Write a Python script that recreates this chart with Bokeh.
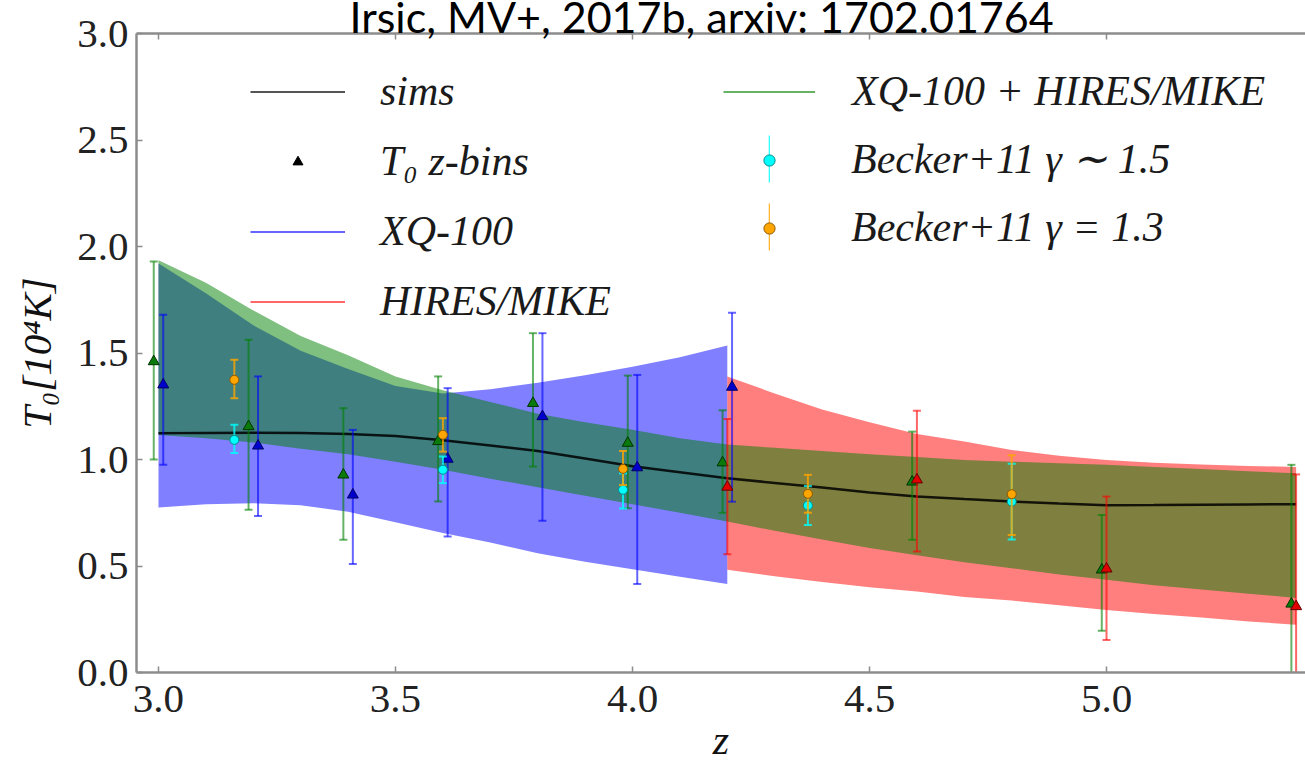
from bokeh.plotting import figure
from bokeh.models import (Range1d, LinearAxis, FixedTicker, Legend, LegendItem,
                          Title, ColumnDataSource)
from bokeh.embed import file_html
from bokeh.resources import INLINE

# ---------------------------------------------------------------- ticks
x_ticks = [3.0, 3.5, 4.0, 4.5, 5.0]
x_tick_labels = ["3.0", "3.5", "4.0", "4.5", "5.0"]
y_ticks = [0.0, 0.5, 1.0, 1.5, 2.0, 2.5, 3.0]
y_tick_labels = ["0.0", "0.5", "1.0", "1.5", "2.0", "2.5", "3.0"]

# ---------------------------------------------------------------- simulation curve
sims_z = [3.0, 3.1, 3.2, 3.3, 3.4, 3.5, 3.6, 3.7, 3.8, 3.9, 4.0, 4.1, 4.2,
          4.3, 4.4, 4.5, 4.6, 4.7, 4.8, 4.9, 5.0, 5.1, 5.2, 5.3, 5.4]
sims_t0 = [1.123, 1.125, 1.126, 1.124, 1.12, 1.11, 1.09, 1.066, 1.04, 1.005,
           0.968, 0.94, 0.912, 0.89, 0.868, 0.845, 0.826, 0.814, 0.803, 0.793,
           0.785, 0.786, 0.788, 0.789, 0.79]

# ---------------------------------------------------------------- 1-sigma bands
xq_band_z = [3.0, 3.1, 3.2, 3.3, 3.4, 3.5, 3.6, 3.7, 3.8, 3.9, 4.0, 4.1, 4.2]
xq_band_hi = [1.92, 1.78, 1.63, 1.51, 1.425, 1.345, 1.31, 1.33, 1.36, 1.395,
              1.435, 1.48, 1.535]
xq_band_lo = [0.775, 0.79, 0.795, 0.785, 0.755, 0.705, 0.655, 0.61, 0.56, 0.52,
              0.485, 0.45, 0.415]

hm_band_z = [4.2, 4.3, 4.4, 4.5, 4.6, 4.7, 4.8, 4.9, 5.0, 5.1, 5.2, 5.3, 5.4]
hm_band_hi = [1.39, 1.31, 1.235, 1.175, 1.12, 1.085, 1.045, 1.018, 0.998,
              0.985, 0.977, 0.97, 0.965]
hm_band_lo = [0.482, 0.452, 0.425, 0.40, 0.38, 0.355, 0.338, 0.316, 0.294,
              0.275, 0.258, 0.24, 0.224]

comb_band_z = [3.0, 3.1, 3.2, 3.3, 3.4, 3.5, 3.6, 3.7, 3.8, 3.9, 4.0, 4.1, 4.2,
               4.3, 4.4, 4.5, 4.6, 4.7, 4.8, 4.9, 5.0, 5.1, 5.2, 5.3, 5.4]
comb_band_hi = [1.935, 1.83, 1.70, 1.58, 1.49, 1.39, 1.325, 1.27, 1.215, 1.175,
                1.14, 1.10, 1.07, 1.055, 1.04, 1.025, 1.012, 0.998, 0.99, 0.982,
                0.975, 0.965, 0.955, 0.945, 0.935]
comb_band_lo = [1.115, 1.10, 1.08, 1.05, 1.025, 0.99, 0.952, 0.91, 0.87, 0.83,
                0.79, 0.75, 0.709, 0.665, 0.625, 0.585, 0.55, 0.518, 0.49, 0.46,
                0.435, 0.41, 0.39, 0.37, 0.35]

# ---------------------------------------------------------------- T0 in z-bins
comb_z = [2.99, 3.19, 3.39, 3.59, 3.79, 3.99, 4.19, 4.59, 4.99, 5.39]
comb_t0 = [1.46, 1.155, 0.928, 1.085, 1.264, 1.077, 0.985, 0.895, 0.482, 0.322]
comb_lo = [1.00, 0.764, 0.623, 0.803, 0.967, 0.771, 0.75, 0.623, 0.196, -0.3]
comb_hi = [1.93, 1.562, 1.241, 1.39, 1.593, 1.394, 1.231, 1.131, 0.74, 0.975]

xq_z = [3.01, 3.21, 3.41, 3.61, 3.81, 4.01, 4.21]
xq_t0 = [1.351, 1.064, 0.834, 1.002, 1.202, 0.962, 1.34]
xq_lo = [0.975, 0.735, 0.509, 0.638, 0.712, 0.415, 0.802]
xq_hi = [1.679, 1.39, 1.139, 1.335, 1.593, 1.397, 1.689]

hm_z = [4.2, 4.6, 5.0, 5.4]
hm_t0 = [0.871, 0.905, 0.487, 0.31]
hm_lo = [0.555, 0.568, 0.153, -0.35]
hm_hi = [1.19, 1.229, 0.826, 0.93]

# ---------------------------------------------------------------- Becker+11
becker15_z = [3.16, 3.6, 3.98, 4.37, 4.8]
becker15_t0 = [1.092, 0.952, 0.858, 0.784, 0.802]
becker15_lo = [1.03, 0.889, 0.77, 0.693, 0.625]
becker15_hi = [1.163, 1.014, 0.935, 0.875, 0.98]

becker13_z = [3.16, 3.6, 3.98, 4.37, 4.8]
becker13_t0 = [1.374, 1.116, 0.956, 0.839, 0.837]
becker13_lo = [1.288, 1.037, 0.88, 0.75, 0.645]
becker13_hi = [1.468, 1.194, 1.04, 0.928, 1.02]

# ---------------------------------------------------------------- figure
p = figure(width=1305, height=765, title=None,
           x_range=Range1d(2.9536, 5.4198), y_range=Range1d(0.0, 3.0),
           output_backend="svg", toolbar_location=None,
           min_border_left=136, min_border_right=0,
           min_border_top=33, min_border_bottom=93)
p.outline_line_color = None
p.grid.visible = False

SERIF = "Liberation Serif"
AXIS_GRAY = "#8c8c8c"


def style_axis(ax):
    ax.axis_line_color = AXIS_GRAY
    ax.axis_line_width = 2.5
    ax.major_tick_in = 6
    ax.major_tick_out = 0
    ax.major_tick_line_color = AXIS_GRAY
    ax.major_tick_line_width = 1.5
    ax.minor_tick_line_color = None
    ax.major_label_text_font = SERIF
    ax.major_label_text_font_size = "41px"
    ax.major_label_text_color = "#222222"


xax = p.xaxis[0]
yax = p.yaxis[0]
style_axis(xax)
style_axis(yax)
xax.ticker = FixedTicker(ticks=x_ticks)
xax.major_label_overrides = dict(zip(x_ticks, x_tick_labels))
xax.major_label_standoff = 13
yax.ticker = FixedTicker(ticks=y_ticks)
yax.major_label_overrides = dict(zip(y_ticks, y_tick_labels))
yax.major_label_standoff = 8

xax.axis_label = "z"
xax.axis_label_text_font = SERIF
xax.axis_label_text_font_style = "italic"
xax.axis_label_text_font_size = "42px"
xax.axis_label_text_color = "#111111"
xax.axis_label_standoff = 2

yax.axis_label = "T₀[10⁴K]"
yax.axis_label_text_font = SERIF
yax.axis_label_text_font_style = "italic"
yax.axis_label_text_font_size = "41px"
yax.axis_label_text_color = "#111111"
yax.axis_label_standoff = 14

# top spine with inward ticks, no labels
top_axis = LinearAxis(ticker=FixedTicker(ticks=x_ticks),
                      major_label_overrides={t: "" for t in x_ticks},
                      major_label_standoff=0)
style_axis(top_axis)
top_axis.major_label_text_font_size = "0px"
p.add_layout(top_axis, "above")

# title sits in the top border, running up to the page edge
p.add_layout(Title(text="Irsic, MV+, 2017b, arxiv: 1702.01764",
                   align="left", offset=213, vertical_align="top", standoff=-20,
                   text_font="Lato", text_font_size="43px",
                   text_font_style="normal", text_color="black"), "above")

# ---------------------------------------------------------------- bands
p.varea(x=xq_band_z, y1=xq_band_lo, y2=xq_band_hi,
        fill_color="blue", fill_alpha=0.5)
p.varea(x=hm_band_z, y1=hm_band_lo, y2=hm_band_hi,
        fill_color="red", fill_alpha=0.5)
p.varea(x=comb_band_z, y1=comb_band_lo, y2=comb_band_hi,
        fill_color="green", fill_alpha=0.5)

p.line(sims_z, sims_t0, line_color="black", line_width=2.5, line_alpha=0.85)


# ---------------------------------------------------------------- points with error bars
def error_points(z, t0, lo, hi, bar_color, bar_alpha, marker, fill, edge, size):
    src = ColumnDataSource(dict(z=z, t0=t0, lo=lo, hi=hi))
    p.segment(x0="z", y0="lo", x1="z", y1="hi", source=src,
              line_color=bar_color, line_alpha=bar_alpha, line_width=2)
    for end in ("lo", "hi"):
        p.scatter(x="z", y=end, source=src, marker="dash", size=8,
                  line_color=bar_color, line_alpha=bar_alpha, line_width=2)
    return p.scatter(x="z", y="t0", source=src, marker=marker, size=size,
                     fill_color=fill, line_color=edge, line_width=1)


error_points(comb_z, comb_t0, comb_lo, comb_hi, "green", 0.6,
             "triangle", "#0a7a0a", "#003300", 11)
error_points(xq_z, xq_t0, xq_lo, xq_hi, "blue", 0.6,
             "triangle", "#0000cc", "#000066", 11)
error_points(hm_z, hm_t0, hm_lo, hm_hi, "red", 0.6,
             "triangle", "#e00000", "#660000", 11)
error_points(becker15_z, becker15_t0, becker15_lo, becker15_hi, "cyan", 0.8,
             "circle", "cyan", "#008b8b", 9)
error_points(becker13_z, becker13_t0, becker13_lo, becker13_hi, "orange", 0.8,
             "circle", "orange", "#8b5a00", 9)

# ---------------------------------------------------------------- legend keys
# key glyphs hold a single NaN so that they draw only inside the legends
NAN = [float("nan")]
key_sims = p.line(x=NAN, y=NAN, line_color="#555555", line_width=2)
key_bins = p.scatter(x=NAN, y=NAN, marker="triangle", fill_color="black",
                     line_color="black")
key_xq = p.line(x=NAN, y=NAN, line_color="blue", line_alpha=0.6, line_width=2)
key_hm = p.line(x=NAN, y=NAN, line_color="red", line_alpha=0.6, line_width=2)
key_comb = p.line(x=NAN, y=NAN, line_color="green", line_alpha=0.6, line_width=2)


def bar_key(color):
    return p.vbar(x=NAN, top=NAN, width=0.01, fill_color=color,
                  fill_alpha=0.8, line_color=None)


def dot_key(color, edge):
    return p.scatter(x=NAN, y=NAN, marker="circle", fill_color=color,
                     line_color=edge, line_width=1)


legend_style = dict(padding=0, margin=0, border_line_color=None,
                    background_fill_alpha=0.0, label_text_font=SERIF,
                    label_text_font_style="italic", label_text_font_size="42px",
                    label_text_color="#1a1a1a")

legend_left = Legend(items=[
    LegendItem(label="sims", renderers=[key_sims]),
    LegendItem(label="T₀ z-bins", renderers=[key_bins]),
    LegendItem(label="XQ-100", renderers=[key_xq]),
    LegendItem(label="HIRES/MIKE", renderers=[key_hm]),
], location=(114, 347), glyph_width=95, glyph_height=25, label_standoff=35,
    spacing=22, **legend_style)

legend_right_top = Legend(items=[
    LegendItem(label="XQ-100 + HIRES/MIKE", renderers=[key_comb]),
], location=(587, 557), glyph_width=92, glyph_height=25, label_standoff=37,
    spacing=22, **legend_style)

# Becker+11 entries: error bar keys with their labels ...
legend_right = Legend(items=[
    LegendItem(label="Becker+11 γ ∼ 1.5", renderers=[bar_key("cyan")]),
    LegendItem(label="Becker+11 γ = 1.3", renderers=[bar_key("orange")]),
], location=(632, 416), glyph_width=2, glyph_height=59, label_standoff=81,
    spacing=9, **legend_style)

# ... and the round data markers laid over the middle of those bars
legend_dots = Legend(items=[
    LegendItem(label=" ", renderers=[dot_key("cyan", "#008b8b")]),
    LegendItem(label=" ", renderers=[dot_key("orange", "#8b5a00")]),
], location=(619, 430), glyph_width=28, glyph_height=28, label_standoff=0,
    spacing=40, **legend_style)

for lg in (legend_left, legend_right_top, legend_right, legend_dots):
    p.add_layout(lg)

open("out.html", "w").write(file_html(p, INLINE))
